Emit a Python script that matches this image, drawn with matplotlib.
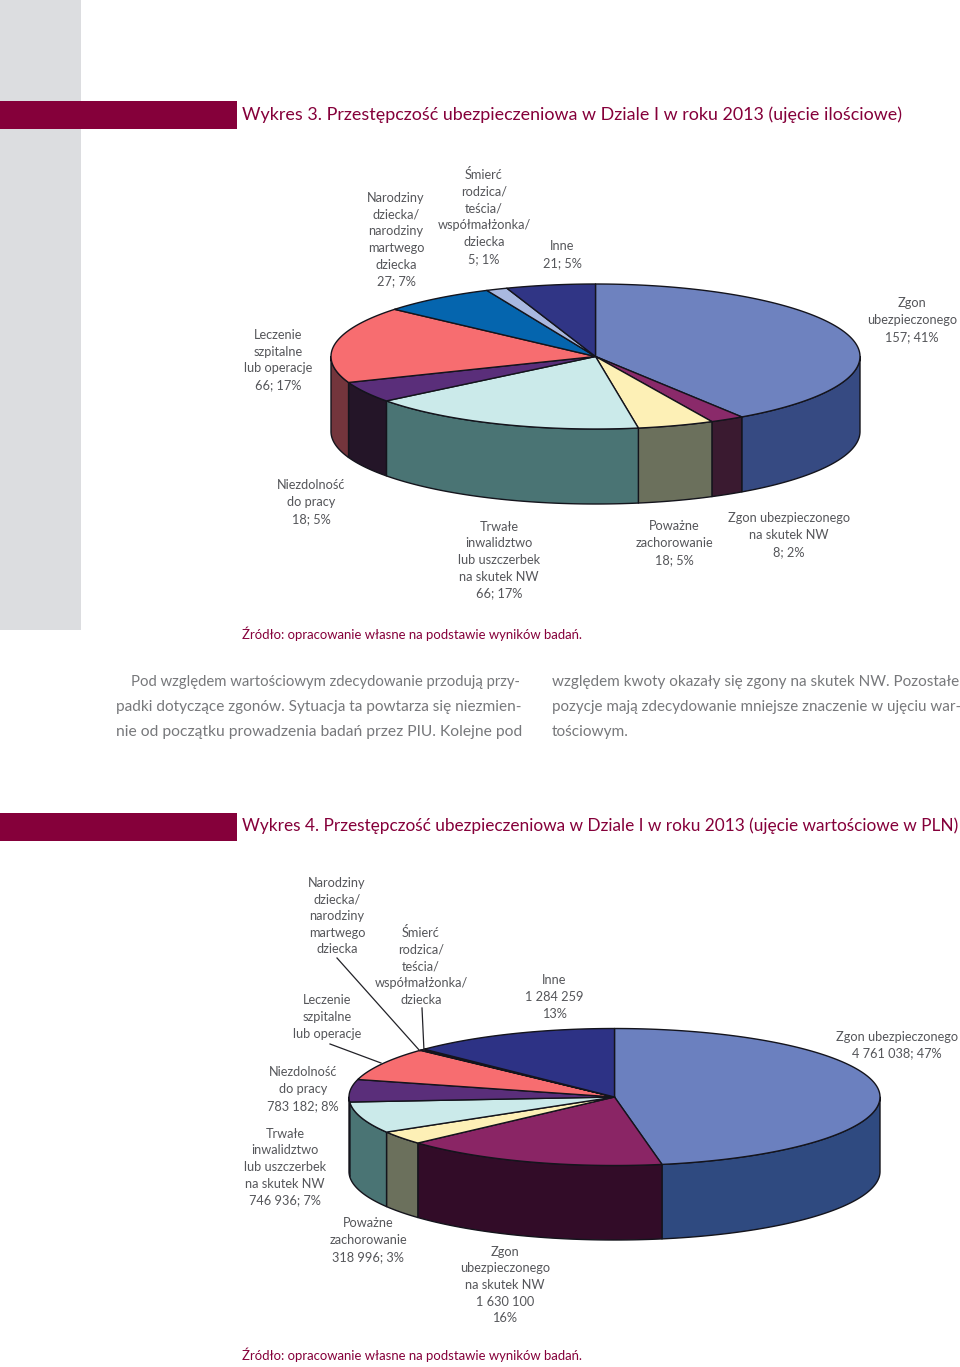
import numpy as np
import matplotlib
matplotlib.use("Agg")
import matplotlib.pyplot as plt
from matplotlib.patches import Polygon, Rectangle

# ---- data ----
cat_names = ["Zgon ubezpieczonego", "Zgon ubezpieczonego na skutek NW", "Poważne zachorowanie",
             "Trwałe inwalidztwo lub uszczerbek na skutek NW", "Niezdolność do pracy",
             "Leczenie szpitalne lub operacje", "Narodziny dziecka/narodziny martwego dziecka",
             "Śmierć rodzica/teścia/współmałżonka/dziecka", "Inne"]
counts = [157, 8, 18, 66, 18, 66, 27, 5, 21]
# amounts as drawn in the reference slices (the slices for Niezdolność and Leczenie)
amounts = [4761038, 1630100, 318996, 746936, 534000, 790000, 10000, 25000, 1284259]

top_colors_1 = ["#6e82bf", "#8a2a6a", "#fdf0b6", "#cbeaea", "#5a2e7a", "#f76d70", "#0565ae", "#a9b8e0", "#303585"]
side_colors_1 = ["#364a82", "#3a1a30", "#6b705c", "#4a7474", "#241528", "#73353c", "#03386a", "#5a6a90", "#1b1e55"]
top_colors_2 = ["#6b80bf", "#8a2565", "#fdf0b6", "#cbeaea", "#5a2e7a", "#f76d70", "#1f2f4a", "#1f2f4a", "#2d3285"]
side_colors_2 = ["#2f4a80", "#320c28", "#6b705c", "#4a7474", "#241528", "#73353c", "#03386a", "#5a6a90", "#1b1e55"]

labels_1 = [
    (912, 320, "Zgon\nubezpieczonego\n157; 41%"),
    (789, 535, "Zgon ubezpieczonego\nna skutek NW\n8; 2%"),
    (674, 543, "Poważne\nzachorowanie\n18; 5%"),
    (499, 560, "Trwałe\ninwalidztwo\nlub uszczerbek\nna skutek NW\n66; 17%"),
    (311, 502, "Niezdolność\ndo pracy\n18; 5%"),
    (278, 360, "Leczenie\nszpitalne\nlub operacje\n66; 17%"),
    (396, 239.5, "Narodziny\ndziecka/\nnarodziny\nmartwego\ndziecka\n27; 7%"),
    (484, 216.5, "Śmierć\nrodzica/\nteścia/\nwspółmałżonka/\ndziecka\n5; 1%"),
    (562, 254.5, "Inne\n21; 5%"),
]
labels_2 = [
    (897, 1045, "Zgon ubezpieczonego\n4 761 038; 47%"),
    (505, 1285, "Zgon\nubezpieczonego\nna skutek NW\n1 630 100\n16%"),
    (368, 1240, "Poważne\nzachorowanie\n318 996; 3%"),
    (285, 1167, "Trwałe\ninwalidztwo\nlub uszczerbek\nna skutek NW\n746 936; 7%"),
    (303, 1089, "Niezdolność\ndo pracy\n783 182; 8%"),
    (327, 1017, "Leczenie\nszpitalne\nlub operacje"),
    (337, 916, "Narodziny\ndziecka/\nnarodziny\nmartwego\ndziecka"),
    (421, 966, "Śmierć\nrodzica/\nteścia/\nwspółmałżonka/\ndziecka"),
    (554, 997, "Inne\n1 284 259\n13%"),
]
title_3 = "Wykres 3. Przestępczość ubezpieczeniowa w Dziale I w roku 2013 (ujęcie ilościowe)"
title_4 = "Wykres 4. Przestępczość ubezpieczeniowa w Dziale I w roku 2013 (ujęcie wartościowe w PLN)"
source = "Źródło: opracowanie własne na podstawie wyników badań."
body = [
    (131, 522, 682, "Pod względem wartościowym zdecydowanie przodują przy-"),
    (116, 522, 707, "padki dotyczące zgonów. Sytuacja ta powtarza się niezmien-"),
    (116, 522, 732, "nie od początku prowadzenia badań przez PIU. Kolejne pod"),
    (552, 958, 682, "względem kwoty okazały się zgony na skutek NW. Pozostałe"),
    (552, 958, 707, "pozycje mają zdecydowanie mniejsze znaczenie w ujęciu war-"),
    (552, 629, 732, "tościowym."),
]
leaders = [((337, 958), (420, 1051)), ((422, 1008), (424, 1051)), ((330, 1044), (381, 1063))]

MAROON = "#85003a"
GREY = "#55565a"
LABEL_FONT = ["Lato", "DejaVu Sans"]
NARROW_FONT = ["Lato", "DejaVu Sans"]

fig = plt.figure(figsize=(9.6, 13.67), dpi=100)
ax = fig.add_axes([0, 0, 1, 1])
ax.set_xlim(0, 960)
ax.set_ylim(1367, 0)
ax.axis("off")
renderer = fig.canvas.get_renderer()

ax.add_patch(Rectangle((0, 0), 81, 630, fc="#dcdde0", ec="none"))
ax.add_patch(Rectangle((0, 101), 237, 28, fc=MAROON, ec="none"))
ax.add_patch(Rectangle((0, 813), 237, 28, fc=MAROON, ec="none"))


def fitted(x0, x1, y, s, color, font, start):
    t = ax.text(x0, y, s, color=color, family=font, fontsize=start, ha="left", va="center")
    w = t.get_window_extent(renderer).width
    t.set_fontsize(start * (x1 - x0) / w)
    return t


def pie3d(values, cx, cy, rx, ry, depth, tops, sides):
    v = np.asarray(values, float)
    edges = np.concatenate([[0], np.cumsum(v)]) / v.sum() * 2 * np.pi

    def arc(a, b):
        n = max(2, int((b - a) / 0.01))
        th = np.linspace(a, b, n)
        return np.column_stack([cx + rx * np.sin(th), cy - ry * np.cos(th)])

    ec = "#14141c"
    for a, b, c in zip(edges[:-1], edges[1:], sides):
        lo, hi = max(a, np.pi / 2), min(b, 3 * np.pi / 2)
        if hi <= lo:
            continue
        p = arc(lo, hi)
        q = p[::-1] + [0, depth]
        ax.add_patch(Polygon(np.vstack([p, q]), closed=True, fc=c, ec=ec, lw=1.0, joinstyle="round", zorder=2))
    for a, b, c in zip(edges[:-1], edges[1:], tops):
        p = arc(a, b)
        ax.add_patch(Polygon(np.vstack([[cx, cy], p]), closed=True, fc=c, ec=ec, lw=1.0, joinstyle="round", zorder=3))


pie3d(counts, 595.5, 356.5, 264.5, 72.5, 75, top_colors_1, side_colors_1)
pie3d(amounts, 614.5, 1097, 265.5, 68.5, 74.5, top_colors_2, side_colors_2)

for x, y, s in labels_1 + labels_2:
    ax.text(x, y, s, ha="center", va="center", multialignment="center", color=GREY,
            family=LABEL_FONT, fontsize=9.2, linespacing=1.47, zorder=5)

for a, b in leaders:
    ax.plot([a[0], b[0]], [a[1], b[1]], color="#222228", lw=0.9, zorder=4)

fitted(242, 900, 115, title_3, MAROON, NARROW_FONT, 15)
fitted(242, 957, 826, title_4, MAROON, NARROW_FONT, 15)
fitted(242, 583, 634, source, MAROON, NARROW_FONT, 10)
fitted(242, 583, 1355, source, MAROON, NARROW_FONT, 10)
for x0, x1, y, s in body:
    fitted(x0, x1, y, s, "#77787b", NARROW_FONT, 11)

fig.savefig("out.png", dpi=100, facecolor="white")
